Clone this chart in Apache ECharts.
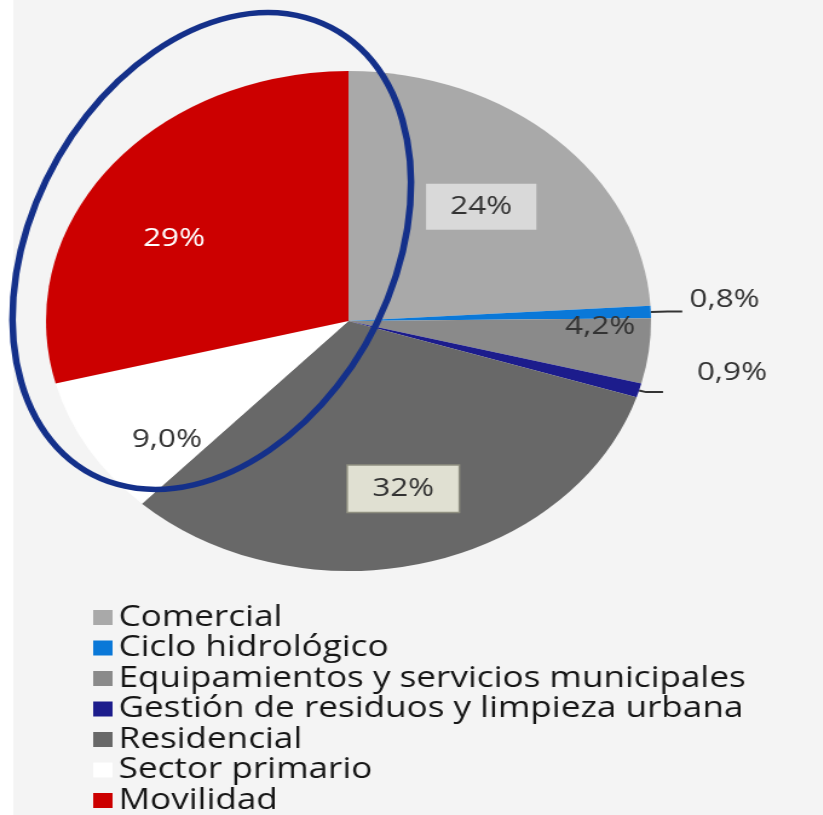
<!DOCTYPE html>
<html>
<head>
<meta charset="utf-8">
<script src="https://cdn.jsdelivr.net/npm/echarts@6/dist/echarts.min.js"></script>
<style>
  html, body { margin: 0; padding: 0; background: #f4f4f4; overflow: hidden; }
  /* the source picture is stretched sideways, so the whole chart is too */
  #chart { width: 680px; height: 815px; transform: scaleX(1.21); transform-origin: 0 0; }
</style>
</head>
<body>
<div id="chart"></div>
<script>
const categories = ['Comercial', 'Ciclo hidrológico', 'Equipamientos y servicios municipales',
  'Gestión de residuos y limpieza urbana', 'Residencial', 'Sector primario', 'Movilidad'];
const shares = [24, 0.8, 4.2, 0.9, 32, 9.0, 29];

const colors = ['#a9a9a9', '#0a78d8', '#8a8a8a', '#1c1c8c', '#686868', '#ffffff', '#cc0000'];
// nudges for the labels, to sit where the original puts them
const labelShift = [[22, -21], [0, -12], [81, -10], [0, -20], [13, 44], [-40, 53], [-43, -4]];

function fmt(v) {
  return v < 10 ? v.toFixed(1).replace('.', ',') + '%' : v + '%';
}

const labelFont = { fontFamily: 'Open Sans', fontSize: 26, color: '#333' };

const pieData = categories.map((name, i) => {
  let item = { name: name, value: shares[i], itemStyle: { color: colors[i] } };
  if (i === 1 || i === 3) {
    item.label = Object.assign({ show: true, position: 'outside', distanceToLabelLine: i === 1 ? 6 : 28 }, labelFont);
    item.labelLine = { show: true, length: i === 1 ? 14 : 6, length2: i === 1 ? 12 : 14,
      lineStyle: { color: '#333', width: 2 } };
  } else {
    item.label = Object.assign({ show: true, position: 'inside' }, labelFont);
    item.labelLine = { show: false };
  }
  if (i === 0) {
    item.label.backgroundColor = '#d9d9d9';
    item.label.padding = [10, 20];
  }
  if (i === 4) {
    item.label.backgroundColor = '#e0e0d2';
    item.label.borderColor = '#8f8f80';
    item.label.borderWidth = 1.5;
    item.label.padding = [10, 20];
  }
  if (i === 6) item.label.color = '#ffffff';
  return item;
});

let chart = echarts.init(document.getElementById('chart'));
let option = {
  backgroundColor: '#f4f4f4',
  animation: false,
  graphic: [
    { type: 'rect', left: 0, top: 0, shape: { width: 11, height: 815 }, style: { fill: '#ffffff' }, z: 0 },
    // tilted ring drawn round the Movilidad slice
    { type: 'ellipse', x: 175, y: 251, rotation: -0.321,
      shape: { cx: 0, cy: 0, rx: 153, ry: 246 },
      style: { fill: 'none', stroke: '#14308a', lineWidth: 5.5 }, z: 100 }
  ],
  legend: {
    orient: 'vertical',
    left: 77,
    top: 603,
    height: 225,
    padding: 0,
    itemWidth: 16,
    itemHeight: 15,
    itemGap: 1.5,
    icon: 'rect',
    data: categories,
    textStyle: { fontFamily: 'Open Sans', fontSize: 29, lineHeight: 29, color: '#161616' }
  },
  series: [
    {
      type: 'pie',
      center: [288, 321],
      radius: [0, 250],
      startAngle: 90,
      clockwise: true,
      avoidLabelOverlap: false,
      data: pieData,
      labelLayout: function (params) {
        let s = labelShift[params.dataIndex];
        return { dx: s[0], dy: s[1] };
      },
      label: { formatter: p => fmt(p.value) },
      emphasis: { disabled: true }
    }
  ]
};
chart.setOption(option);
</script>
</body>
</html>
